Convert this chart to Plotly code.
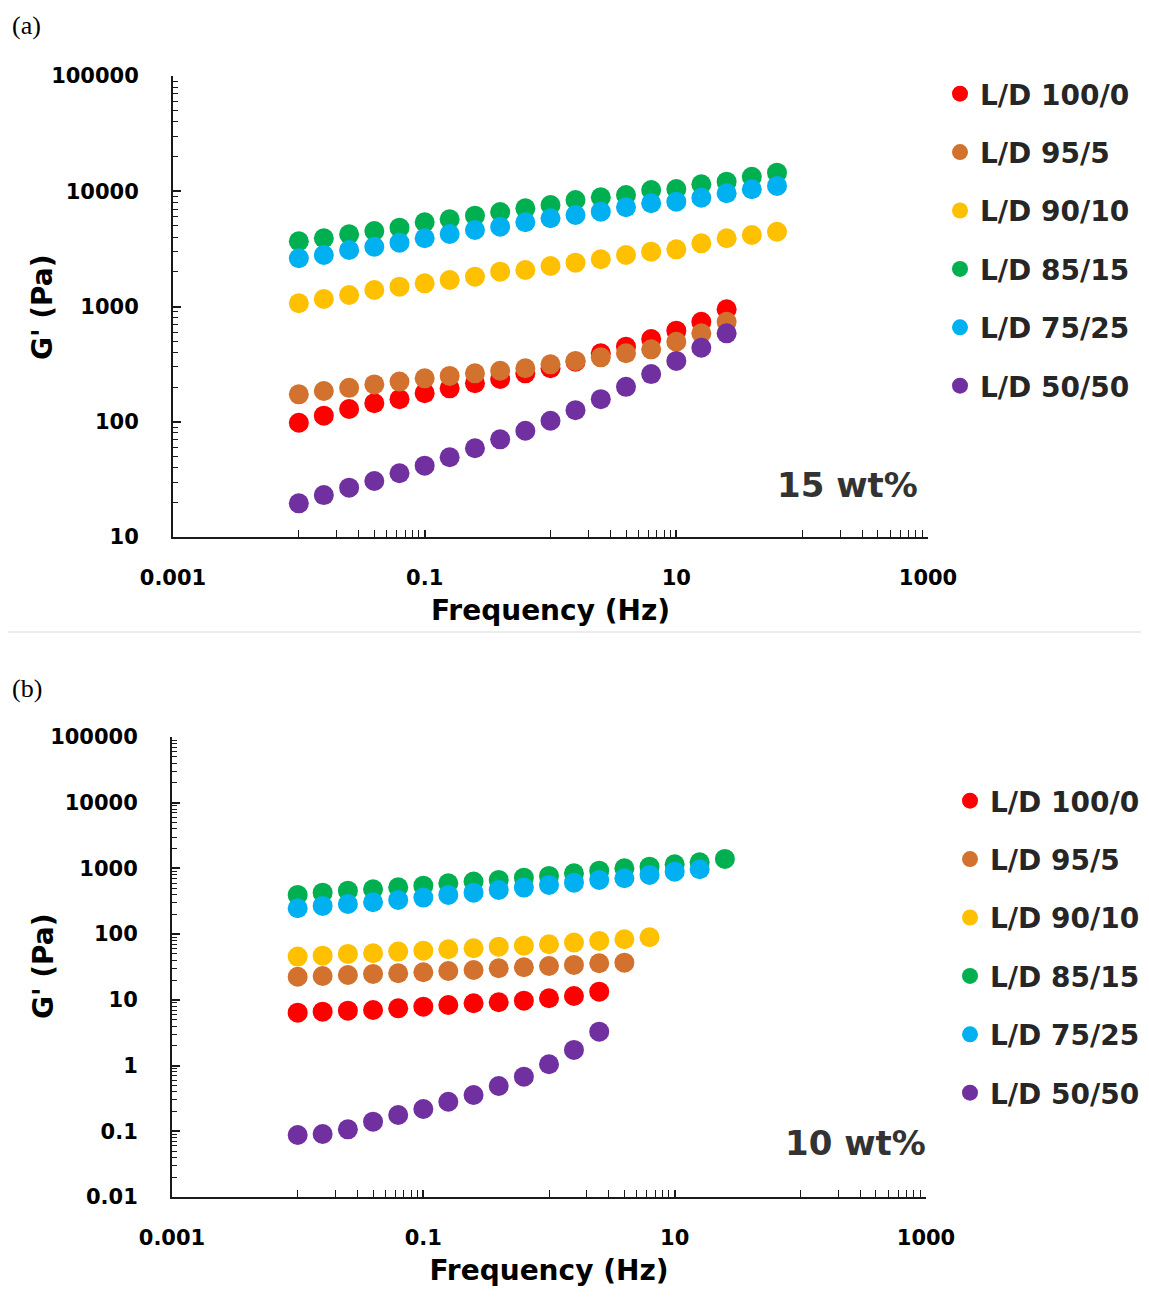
import plotly.graph_objects as go

# ---------------- data ----------------
freq = [0.01, 0.0158, 0.0251, 0.0398, 0.0631, 0.1, 0.158, 0.251, 0.398, 0.631,
        1.0, 1.58, 2.51, 3.98, 6.31, 10.0, 15.8, 25.1, 39.8, 63.1]

series_names = ["L/D 100/0", "L/D 95/5", "L/D 90/10", "L/D 85/15", "L/D 75/25", "L/D 50/50"]
colors = ["#FF0000", "#D2722E", "#FFC000", "#00B050", "#00B0F0", "#7030A0"]

# (a) 15 wt%
a_100_0 = [98, 113, 129, 145, 157, 177, 195, 216, 235, 263, 291, 332, 393, 448, 522, 617, 738, 946]
a_95_5 = [173, 185, 197, 211, 223, 238, 250, 263, 277, 291, 315, 337, 362, 393, 425, 495, 585, 738]
a_90_10 = [1066, 1161, 1259, 1390, 1486, 1589, 1698, 1814, 2005, 2074, 2245, 2400, 2568, 2800,
           2990, 3135, 3534, 3906, 4170, 4456]
a_85_15 = [3680, 3910, 4230, 4520, 4830, 5380, 5710, 6140, 6610, 7110, 7600, 8400, 8870, 9280,
           10260, 10470, 11490, 12110, 13370, 14490]
a_75_25 = [2620, 2800, 3090, 3300, 3580, 3910, 4260, 4610, 4920, 5380, 5830, 6220, 6650, 7260,
           7860, 8120, 8790, 9600, 10400, 11120]
a_50_50 = [19.6, 23.1, 26.8, 30.6, 35.7, 41.6, 49.2, 58.9, 70.4, 83.6, 102, 126, 157, 201, 259,
           337, 439, 585]

# (b) 10 wt%
b_100_0 = [6.38, 6.61, 6.85, 7.02, 7.45, 7.88, 8.36, 8.87, 9.18, 9.72, 10.57, 11.46, 13.33]
b_95_5 = [22.5, 23.1, 23.9, 24.8, 25.4, 26.3, 27.5, 28.5, 30.3, 31.3, 32.8, 34.0, 36.1, 36.8]
b_90_10 = [45.5, 47.1, 50.0, 51.2, 54.2, 56.1, 58.9, 61.0, 64.5, 66.8, 70.2, 74.3, 78.8, 83.5, 89.7]
b_85_15 = [395, 428, 459, 482, 517, 547, 595, 630, 668, 724, 769, 845, 925, 1007, 1065, 1158,
           1242, 1396]
b_75_25 = [248, 269, 288, 306, 332, 360, 395, 428, 471, 511, 561, 608, 668, 709, 796, 894, 971]
b_50_50 = [0.0879, 0.0910, 0.107, 0.140, 0.177, 0.218, 0.282, 0.357, 0.489, 0.678, 1.047, 1.73, 3.28]

x_tick_labels = ["0.001", "0.1", "10", "1000"]
ya_tick_labels = ["10", "100", "1000", "10000", "100000"]
yb_tick_labels = ["0.01", "0.1", "1", "10", "100", "1000", "10000", "100000"]

# ---------------- figure ----------------
OFF = 8                       # default page margin of the html body
W, H = 1149 - OFF, 1299 - OFF
FONT = "DejaVu Sans"
fig = go.Figure()

panel_a = [a_100_0, a_95_5, a_90_10, a_85_15, a_75_25, a_50_50]
panel_b = [b_100_0, b_95_5, b_90_10, b_85_15, b_75_25, b_50_50]

for i, (name, col, ys) in enumerate(zip(series_names, colors, panel_a)):
    fig.add_trace(go.Scatter(
        x=freq[:len(ys)], y=ys, mode="markers", name=name,
        marker=dict(color=col, size=20, line=dict(width=0)),
        xaxis="x", yaxis="y", legend="legend", legendgroup="a%d" % i))
for i, (name, col, ys) in enumerate(zip(series_names, colors, panel_b)):
    fig.add_trace(go.Scatter(
        x=freq[:len(ys)], y=ys, mode="markers", name=name,
        marker=dict(color=col, size=20, line=dict(width=0)),
        xaxis="x2", yaxis="y2", legend="legend2", legendgroup="b%d" % i))

def px_x(p):
    return (p - OFF) / W

def px_y(p):
    return 1 - (p - OFF) / H

x_minor = [m * 10 ** e for e in (-2, 0, 2) for m in range(1, 10)]
x_minor = [v for v in x_minor if v not in (0.1, 10, 1000)]

def y_minor(lo, hi):
    return [m * 10.0 ** e for e in range(lo, hi) for m in range(2, 10)]

axis_line = dict(showline=True, linecolor="#1a1a1a", linewidth=2, showgrid=False,
                 zeroline=False, mirror=False, automargin=False)
tickfont = dict(family=FONT, size=21, color="#000000", weight="bold")
titlefont = dict(family=FONT, size=28, color="#000000", weight="bold")

x_common = dict(type="log", range=[-3, 3], tickmode="array",
                tickvals=[0.001, 0.1, 10, 1000], ticktext=x_tick_labels,
                ticks="inside", ticklen=7, tickwidth=1.5, tickcolor="#1a1a1a",
                minor=dict(tickmode="array", tickvals=x_minor, ticks="inside", ticklen=7,
                           tickwidth=1, tickcolor="#1a1a1a"),
                tickfont=tickfont, ticklabelstandoff=21,
                title=dict(text="Frequency (Hz)", font=titlefont, standoff=11),
                **axis_line)

y_common = dict(type="log", ticks="inside", ticklen=8, tickwidth=1.5, tickcolor="#1a1a1a",
                tickmode="array", tickfont=tickfont, ticklabelstandoff=28, **axis_line)

fig.update_layout(
    template="none",
    width=W, height=H,
    margin=dict(l=0, r=0, t=0, b=0, autoexpand=False),
    paper_bgcolor="white", plot_bgcolor="white",
    showlegend=True,
    xaxis=dict(domain=[px_x(173), px_x(928)], anchor="y", **x_common),
    yaxis=dict(domain=[px_y(537), px_y(76)], anchor="x", range=[1, 5],
               tickvals=[10, 100, 1000, 10000, 100000], ticktext=ya_tick_labels,
               minor=dict(tickmode="array", tickvals=y_minor(1, 5), ticks="inside", ticklen=5,
                          tickwidth=1, tickcolor="#1a1a1a"),
               **y_common),
    xaxis2=dict(domain=[px_x(172), px_x(926)], anchor="y2", **x_common),
    yaxis2=dict(domain=[px_y(1197), px_y(737)], anchor="x2", range=[-2, 5],
                tickvals=[0.01, 0.1, 1, 10, 100, 1000, 10000, 100000], ticktext=yb_tick_labels,
                minor=dict(tickmode="array", tickvals=y_minor(-2, 5), ticks="inside", ticklen=5,
                           tickwidth=1, tickcolor="#1a1a1a"),
                **y_common),
    legend=dict(x=px_x(940), y=px_y(69), xanchor="left", yanchor="top",
                font=dict(family=FONT, size=28, color="#262626", weight="bold"),
                tracegroupgap=19, bgcolor="rgba(0,0,0,0)", itemsizing="trace"),
    legend2=dict(x=px_x(950), y=px_y(776), xanchor="left", yanchor="top",
                 font=dict(family=FONT, size=28, color="#262626", weight="bold"),
                 tracegroupgap=19, bgcolor="rgba(0,0,0,0)", itemsizing="trace"),
    annotations=[
        dict(text="G' (Pa)", x=px_x(43), y=px_y(307), xref="paper", yref="paper",
             textangle=-90, xanchor="center", yanchor="middle", showarrow=False, font=titlefont),
        dict(text="G' (Pa)", x=px_x(43), y=px_y(966), xref="paper", yref="paper",
             textangle=-90, xanchor="center", yanchor="middle", showarrow=False, font=titlefont),
        dict(text="(a)", x=px_x(10), y=px_y(26), xref="paper", yref="paper",
             xanchor="left", yanchor="middle", showarrow=False,
             font=dict(family="Liberation Serif", size=26, color="#000000")),
        dict(text="(b)", x=px_x(10), y=px_y(688), xref="paper", yref="paper",
             xanchor="left", yanchor="middle", showarrow=False,
             font=dict(family="Liberation Serif", size=26, color="#000000")),
        dict(text="15 wt%", x=px_x(920), y=px_y(485), xref="paper", yref="paper",
             xanchor="right", yanchor="middle", showarrow=False,
             font=dict(family=FONT, size=34, color="#333333", weight="bold")),
        dict(text="10 wt%", x=px_x(928), y=px_y(1143), xref="paper", yref="paper",
             xanchor="right", yanchor="middle", showarrow=False,
             font=dict(family=FONT, size=34, color="#333333", weight="bold")),
    ],
    shapes=[dict(type="line", xref="paper", yref="paper", x0=0, x1=1,
                 y0=px_y(632), y1=px_y(632), line=dict(color="#d9d9d9", width=1))],
)

fig.write_html("out.html")
